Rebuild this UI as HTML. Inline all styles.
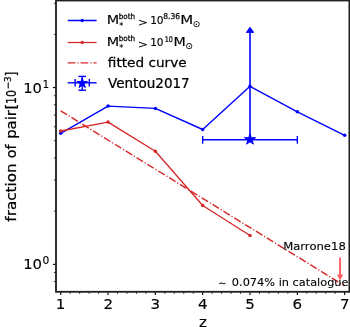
<!DOCTYPE html>
<html><head><meta charset="utf-8"><style>
html,body{margin:0;padding:0;background:#fff;width:350px;height:327px;overflow:hidden}
svg{display:block}
text{font-family:'DejaVu Sans', 'Liberation Sans', sans-serif;fill:#000;stroke:#000;stroke-width:0.25px}
</style></head><body>
<svg width="350" height="327" viewBox="0 0 350 327">
<defs><filter id="soft" x="0" y="0" width="1" height="1"><feGaussianBlur stdDeviation="0.3"/></filter></defs>
<rect width="350" height="327" fill="#fff"/>
<g filter="url(#soft)">
<rect width="350" height="327" fill="#fff"/>
<line x1="60.73" y1="291.8" x2="60.73" y2="295.1" stroke="#000" stroke-width="1.1"/>
<line x1="108.05" y1="291.8" x2="108.05" y2="295.1" stroke="#000" stroke-width="1.1"/>
<line x1="155.37" y1="291.8" x2="155.37" y2="295.1" stroke="#000" stroke-width="1.1"/>
<line x1="202.69" y1="291.8" x2="202.69" y2="295.1" stroke="#000" stroke-width="1.1"/>
<line x1="250.01" y1="291.8" x2="250.01" y2="295.1" stroke="#000" stroke-width="1.1"/>
<line x1="297.33" y1="291.8" x2="297.33" y2="295.1" stroke="#000" stroke-width="1.1"/>
<line x1="344.65" y1="291.8" x2="344.65" y2="295.1" stroke="#000" stroke-width="1.1"/>
<line x1="70.20" y1="291.8" x2="70.20" y2="293.90000000000003" stroke="#000" stroke-width="0.8"/>
<line x1="79.66" y1="291.8" x2="79.66" y2="293.90000000000003" stroke="#000" stroke-width="0.8"/>
<line x1="89.12" y1="291.8" x2="89.12" y2="293.90000000000003" stroke="#000" stroke-width="0.8"/>
<line x1="98.59" y1="291.8" x2="98.59" y2="293.90000000000003" stroke="#000" stroke-width="0.8"/>
<line x1="117.52" y1="291.8" x2="117.52" y2="293.90000000000003" stroke="#000" stroke-width="0.8"/>
<line x1="126.98" y1="291.8" x2="126.98" y2="293.90000000000003" stroke="#000" stroke-width="0.8"/>
<line x1="136.44" y1="291.8" x2="136.44" y2="293.90000000000003" stroke="#000" stroke-width="0.8"/>
<line x1="145.91" y1="291.8" x2="145.91" y2="293.90000000000003" stroke="#000" stroke-width="0.8"/>
<line x1="164.84" y1="291.8" x2="164.84" y2="293.90000000000003" stroke="#000" stroke-width="0.8"/>
<line x1="174.30" y1="291.8" x2="174.30" y2="293.90000000000003" stroke="#000" stroke-width="0.8"/>
<line x1="183.76" y1="291.8" x2="183.76" y2="293.90000000000003" stroke="#000" stroke-width="0.8"/>
<line x1="193.23" y1="291.8" x2="193.23" y2="293.90000000000003" stroke="#000" stroke-width="0.8"/>
<line x1="212.16" y1="291.8" x2="212.16" y2="293.90000000000003" stroke="#000" stroke-width="0.8"/>
<line x1="221.62" y1="291.8" x2="221.62" y2="293.90000000000003" stroke="#000" stroke-width="0.8"/>
<line x1="231.08" y1="291.8" x2="231.08" y2="293.90000000000003" stroke="#000" stroke-width="0.8"/>
<line x1="240.55" y1="291.8" x2="240.55" y2="293.90000000000003" stroke="#000" stroke-width="0.8"/>
<line x1="259.48" y1="291.8" x2="259.48" y2="293.90000000000003" stroke="#000" stroke-width="0.8"/>
<line x1="268.94" y1="291.8" x2="268.94" y2="293.90000000000003" stroke="#000" stroke-width="0.8"/>
<line x1="278.40" y1="291.8" x2="278.40" y2="293.90000000000003" stroke="#000" stroke-width="0.8"/>
<line x1="287.87" y1="291.8" x2="287.87" y2="293.90000000000003" stroke="#000" stroke-width="0.8"/>
<line x1="306.80" y1="291.8" x2="306.80" y2="293.90000000000003" stroke="#000" stroke-width="0.8"/>
<line x1="316.26" y1="291.8" x2="316.26" y2="293.90000000000003" stroke="#000" stroke-width="0.8"/>
<line x1="325.72" y1="291.8" x2="325.72" y2="293.90000000000003" stroke="#000" stroke-width="0.8"/>
<line x1="335.19" y1="291.8" x2="335.19" y2="293.90000000000003" stroke="#000" stroke-width="0.8"/>
<line x1="56" y1="264.35" x2="52.9" y2="264.35" stroke="#000" stroke-width="1.1"/>
<line x1="56" y1="87.60" x2="52.9" y2="87.60" stroke="#000" stroke-width="1.1"/>
<line x1="56" y1="281.48" x2="53.9" y2="281.48" stroke="#000" stroke-width="0.8"/>
<line x1="56" y1="272.44" x2="53.9" y2="272.44" stroke="#000" stroke-width="0.8"/>
<line x1="56" y1="211.14" x2="53.9" y2="211.14" stroke="#000" stroke-width="0.8"/>
<line x1="56" y1="180.02" x2="53.9" y2="180.02" stroke="#000" stroke-width="0.8"/>
<line x1="56" y1="157.94" x2="53.9" y2="157.94" stroke="#000" stroke-width="0.8"/>
<line x1="56" y1="140.81" x2="53.9" y2="140.81" stroke="#000" stroke-width="0.8"/>
<line x1="56" y1="126.81" x2="53.9" y2="126.81" stroke="#000" stroke-width="0.8"/>
<line x1="56" y1="114.98" x2="53.9" y2="114.98" stroke="#000" stroke-width="0.8"/>
<line x1="56" y1="104.73" x2="53.9" y2="104.73" stroke="#000" stroke-width="0.8"/>
<line x1="56" y1="95.69" x2="53.9" y2="95.69" stroke="#000" stroke-width="0.8"/>
<line x1="56" y1="34.39" x2="53.9" y2="34.39" stroke="#000" stroke-width="0.8"/>
<line x1="56" y1="3.27" x2="53.9" y2="3.27" stroke="#000" stroke-width="0.8"/>
<line x1="60.6" y1="110.8" x2="344.7" y2="285.9" stroke="#d62728" stroke-width="1.45" stroke-dasharray="7.5 2.05 1.15 2.05"/>
<polyline points="60.73,133.3 108.05,106.1 155.37,108.4 202.69,129.5 250.01,86.3 297.33,111.8 344.65,135.3" fill="none" stroke="#0000ff" stroke-width="1.4" stroke-linejoin="round"/>
<circle cx="60.73" cy="133.3" r="1.75" fill="#0000ff"/>
<circle cx="108.05" cy="106.1" r="1.75" fill="#0000ff"/>
<circle cx="155.37" cy="108.4" r="1.75" fill="#0000ff"/>
<circle cx="202.69" cy="129.5" r="1.75" fill="#0000ff"/>
<circle cx="250.01" cy="86.3" r="1.75" fill="#0000ff"/>
<circle cx="297.33" cy="111.8" r="1.75" fill="#0000ff"/>
<circle cx="344.65" cy="135.3" r="1.75" fill="#0000ff"/>
<polyline points="60.73,131 108.05,122.1 155.37,151.3 202.69,205.5 250.01,235.5" fill="none" stroke="#d62728" stroke-width="1.3" stroke-linejoin="round"/>
<circle cx="60.73" cy="131" r="1.75" fill="#d62728"/>
<circle cx="108.05" cy="122.1" r="1.75" fill="#d62728"/>
<circle cx="155.37" cy="151.3" r="1.75" fill="#d62728"/>
<circle cx="202.69" cy="205.5" r="1.75" fill="#d62728"/>
<circle cx="250.01" cy="235.5" r="1.75" fill="#d62728"/>
<line x1="202.69" y1="139.8" x2="297.33" y2="139.8" stroke="#0000ff" stroke-width="1.4"/>
<line x1="202.69" y1="136.0" x2="202.69" y2="143.60000000000002" stroke="#0000ff" stroke-width="1.4"/>
<line x1="297.33" y1="136.0" x2="297.33" y2="143.60000000000002" stroke="#0000ff" stroke-width="1.4"/>
<line x1="250.01" y1="139.8" x2="250.01" y2="32.5" stroke="#0000ff" stroke-width="1.6"/>
<polygon points="250.01,27.3 246.41,32.4 253.61,32.4" fill="#0000ff" stroke="#0000ff" stroke-width="1"/>
<polygon points="250.01,133.70 251.31,137.71 255.53,137.71 252.12,140.18 253.42,144.19 250.01,141.72 246.60,144.19 247.91,140.18 244.50,137.71 248.71,137.71" fill="#0000ff" stroke="#0000ff" stroke-width="1"/>
<line x1="340.1" y1="257.5" x2="340.1" y2="275" stroke="#ff5a5f" stroke-width="1.9"/>
<polygon points="337.0,274.6 343.20000000000005,274.6 340.1,280.6" fill="#ff5a5f"/>
<line x1="67.7" y1="20.5" x2="96.6" y2="20.5" stroke="#0000ff" stroke-width="1.5"/>
<circle cx="82.2" cy="20.5" r="1.7" fill="#0000ff"/>
<line x1="67.7" y1="42.5" x2="96.6" y2="42.5" stroke="#d62728" stroke-width="1.25"/>
<circle cx="82.2" cy="42.5" r="1.7" fill="#d62728"/>
<line x1="67.7" y1="62.9" x2="96.6" y2="62.9" stroke="#d62728" stroke-width="1.3" stroke-dasharray="7.7 2.0 1.2 2.0"/>
<line x1="67.7" y1="82.8" x2="96.6" y2="82.8" stroke="#0000ff" stroke-width="1.4"/>
<line x1="82.2" y1="76.2" x2="82.2" y2="90.2" stroke="#0000ff" stroke-width="1.4"/>
<line x1="78.4" y1="76.39999999999999" x2="86.0" y2="76.39999999999999" stroke="#0000ff" stroke-width="1.4"/>
<line x1="78.4" y1="90.2" x2="86.0" y2="90.2" stroke="#0000ff" stroke-width="1.4"/>
<line x1="75.10000000000001" y1="79.0" x2="75.10000000000001" y2="86.6" stroke="#0000ff" stroke-width="1.4"/>
<line x1="89.3" y1="79.0" x2="89.3" y2="86.6" stroke="#0000ff" stroke-width="1.4"/>
<polygon points="82.20,77.80 83.41,81.53 87.34,81.53 84.16,83.84 85.37,87.57 82.20,85.26 79.03,87.57 80.24,83.84 77.06,81.53 80.99,81.53" fill="#0000ff" stroke="#0000ff" stroke-width="1"/>
<rect x="56" y="0.5" width="293.4" height="291.3" fill="none" stroke="#222" stroke-width="1.85"/>
<text transform="translate(55.80,308.80) scale(1.040,1)" font-size="14.50" style="stroke-width:0.15px">1</text>
<text transform="translate(103.46,308.80) scale(1.040,1)" font-size="14.50" style="stroke-width:0.15px">2</text>
<text transform="translate(150.61,308.80) scale(1.040,1)" font-size="14.50" style="stroke-width:0.15px">3</text>
<text transform="translate(197.95,308.80) scale(1.040,1)" font-size="14.50" style="stroke-width:0.15px">4</text>
<text transform="translate(245.29,308.80) scale(1.040,1)" font-size="14.50" style="stroke-width:0.15px">5</text>
<text transform="translate(292.48,308.80) scale(1.040,1)" font-size="14.50" style="stroke-width:0.15px">6</text>
<text transform="translate(339.88,308.80) scale(1.040,1)" font-size="14.50" style="stroke-width:0.15px">7</text>
<text transform="translate(198.94,327.00) scale(1.040,1)" font-size="14.50" style="stroke-width:0.15px">z</text>
<text transform="translate(23.28,92.80) scale(1.013,1)" font-size="14.50" style="stroke-width:0.15px">10</text>
<text transform="translate(42.81,87.50) scale(0.963,1)" font-size="10.29" style="stroke-width:0.15px">1</text>
<text transform="translate(23.16,269.40) scale(1.026,1)" font-size="14.50" style="stroke-width:0.15px">10</text>
<text transform="translate(42.49,264.16) scale(1.052,1)" font-size="10.19" style="stroke-width:0.15px">0</text>
<g transform="translate(16.3,221.3) rotate(-90)"><text transform="translate(-0.35,0.00) scale(1.053,1)" font-size="14.40">fraction</text><text transform="translate(63.02,0.00) scale(0.988,1)" font-size="14.40">of</text><text transform="translate(82.45,0.00) scale(1.031,1)" font-size="14.40">pair</text><text transform="translate(111.91,0.00) scale(1.085,1)" font-size="13.80">[</text><text transform="translate(117.29,0.00) scale(0.800,1)" font-size="13.80">10</text><text transform="translate(132.03,-5.20) scale(0.969,1)" font-size="9.40">−</text><text transform="translate(139.34,-5.20) scale(0.931,1)" font-size="9.40">3</text><text transform="translate(145.08,0.00) scale(0.840,1)" font-size="13.80">]</text></g>
<text transform="translate(107.79,67.30) scale(1.058,1)" font-size="12.90">fitted curve</text>
<text transform="translate(107.99,87.70) scale(1.027,1)" font-size="13.20">Ventou2017</text>
<text transform="translate(106.69,24.40) scale(1.264,1)" font-size="11.39" style="stroke-width:0.14px">M</text>
<text transform="translate(118.74,19.29) scale(0.935,1)" font-size="7.75" style="stroke-width:0.25px">both</text>
<text transform="translate(118.46,25.50) scale(0.975,1)" font-size="6.70" fill="#555" style="stroke-width:0px">∗</text>
<text transform="translate(137.68,25.62) scale(1.111,1)" font-size="11.21" style="stroke-width:0.1px">&gt;</text>
<text transform="translate(150.14,24.24) scale(0.953,1)" font-size="11.11" style="stroke-width:0.15px">10</text>
<text transform="translate(106.69,46.40) scale(1.264,1)" font-size="11.39" style="stroke-width:0.14px">M</text>
<text transform="translate(118.74,41.29) scale(0.935,1)" font-size="7.75" style="stroke-width:0.25px">both</text>
<text transform="translate(118.46,47.50) scale(0.975,1)" font-size="6.70" fill="#555" style="stroke-width:0px">∗</text>
<text transform="translate(137.68,47.62) scale(1.111,1)" font-size="11.21" style="stroke-width:0.1px">&gt;</text>
<text transform="translate(150.14,46.24) scale(0.953,1)" font-size="11.11" style="stroke-width:0.15px">10</text>
<text transform="translate(163.29,19.19) scale(0.935,1)" font-size="8.07" style="stroke-width:0.25px">8.36</text>
<text transform="translate(180.33,24.40) scale(1.317,1)" font-size="11.39" style="stroke-width:0.14px">M</text>
<text transform="translate(192.57,26.97) scale(1.018,1)" font-size="8.98" style="stroke-width:0.1px">⊙</text>
<text transform="translate(164.80,41.59) scale(0.832,1)" font-size="7.67" style="stroke-width:0.25px">10</text>
<text transform="translate(173.50,46.30) scale(1.251,1)" font-size="11.39" style="stroke-width:0.14px">M</text>
<text transform="translate(185.27,49.17) scale(0.985,1)" font-size="9.28" style="stroke-width:0.1px">⊙</text>
<text transform="translate(283.16,249.95) scale(1.112,1)" font-size="10.45" style="stroke-width:0.12px">Marrone18</text>
<text transform="translate(231.85,286.10) scale(1.031,1)" font-size="11.00" style="stroke-width:0.1px">0.074% in catalogue</text>
<text transform="translate(217.97,286.75) scale(0.973,1)" font-size="11.00" style="stroke-width:0px">∼</text>
</g>
</svg>
</body></html>
